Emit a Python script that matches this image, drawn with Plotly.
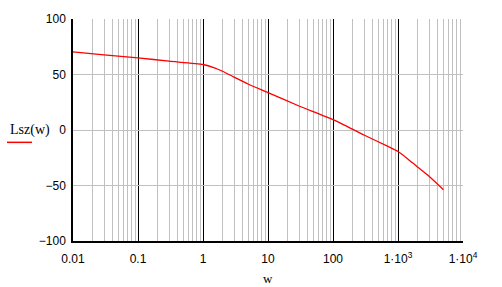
import plotly.graph_objects as go

# data
w = [0.01, 0.03, 0.1, 0.3, 1, 1.5, 2, 3, 5, 10, 30, 100, 300, 700, 1000, 1400, 2000, 3000, 5000]
lsz = [70.3, 67.6, 65.0, 62.0, 59.0, 56.0, 52.9, 47.7, 41.2, 33.7, 21.6, 9.3, -4.5, -14.8, -19.4, -25.8, -33.4, -41.7, -53.8]

x_major = [0.01, 0.1, 1, 10, 100, 1000, 10000]
x_major_text = ["0.01", "0.1", "1", "10", "100", "1\u00b710<sup>3</sup>", "1\u00b710<sup>4</sup>"]
x_minor = [m * d for d in [0.01, 0.1, 1, 10, 100, 1000] for m in range(2, 10)]
y_ticks = [-100, -50, 0, 50, 100]
y_text = ["\u2212100", "\u221250", "0", "50", "100"]

L, R, T, B = 73, 39, 16, 46
W, H = 502, 287
pw = W - L - R
ph = H - T - B

fig = go.Figure()
fig.add_trace(go.Scatter(x=w, y=lsz, mode="lines",
                         line=dict(color="#ff0000", width=1.3, shape="spline", smoothing=0.6),
                         showlegend=False, hoverinfo="skip"))

fig.update_layout(
    width=W, height=H,
    margin=dict(l=L, r=R, t=T, b=B, pad=0),
    paper_bgcolor="white", plot_bgcolor="white",
    font=dict(family="Liberation Sans, Arial, sans-serif", size=12, color="black"),
    xaxis=dict(type="log", range=[-2, 4], tickmode="array",
               tickvals=x_major, ticktext=x_major_text,
               showgrid=True, gridcolor="black", gridwidth=1,
               minor=dict(tickmode="array", tickvals=x_minor, showgrid=True,
                          gridcolor="#c0c0c0", gridwidth=1, ticks=""),
               showline=True, linecolor="black", linewidth=1.5,
               ticks="", zeroline=False, ticklabelstandoff=6,
               tickfont=dict(size=12)),
    yaxis=dict(range=[-100, 100], tickmode="array", tickvals=y_ticks, ticktext=y_text,
               showgrid=True, gridcolor="#c0c0c0", gridwidth=1,
               showline=True, linecolor="black", linewidth=1.5,
               ticks="", zeroline=False, ticklabelstandoff=3,
               tickfont=dict(size=12)),
)

def px_x(p):
    return (p - L) / pw

def px_y(p):
    return 1 - (p - T) / ph

fig.add_annotation(text="Lsz(w)", xref="paper", yref="paper",
                   x=px_x(8), y=px_y(129), xanchor="left", yanchor="middle",
                   showarrow=False,
                   font=dict(family="Liberation Serif, Times New Roman, serif", size=14))
fig.add_shape(type="line", xref="paper", yref="paper",
              x0=px_x(7), x1=px_x(32), y0=px_y(141), y1=px_y(141),
              line=dict(color="#ff0000", width=1.5))
fig.add_annotation(text="w", xref="paper", yref="paper",
                   x=px_x(268.3), y=px_y(279), xanchor="center", yanchor="middle",
                   showarrow=False,
                   font=dict(family="Liberation Serif, Times New Roman, serif", size=13))

fig.write_html("out.html")
